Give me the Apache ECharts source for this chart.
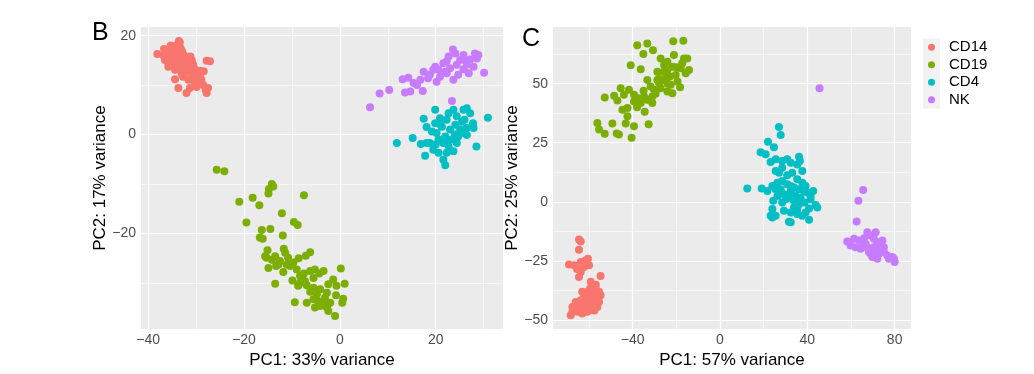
<!DOCTYPE html>
<html>
<head>
<meta charset="utf-8">
<script src="https://cdn.jsdelivr.net/npm/echarts@6/dist/echarts.min.js"></script>
<style>html,body{margin:0;padding:0;background:#fff}#c{width:1034px;height:374px}</style>
</head>
<body>
<div id="c"></div>
<script>
// ---------- categories ----------
const groups = ['CD14', 'CD19', 'CD4', 'NK'];
const colors = ['#F8766D', '#7CAE00', '#00BFC4', '#C77CFF'];

// ---------- panel B (PC1 33%, PC2 17%) ----------
const bCD14 = [[-38.1,16.3],[-36.7,17.3],[-35.3,18.0],[-33.6,18.9],[-33.4,18.6],[-36.0,16.1],[-34.8,17.1],[-33.4,16.4],[-32.0,15.4],[-30.9,15.0],[-35.8,13.7],[-34.4,13.1],[-33.0,13.4],[-31.3,12.7],[-30.3,13.2],[-29.2,12.9],[-27.8,14.9],[-27.1,14.8],[-34.4,11.2],[-33.7,9.4],[-32.0,8.4],[-31.3,9.4],[-29.9,9.6],[-28.9,11.1],[-28.5,10.0],[-27.8,8.4],[-27.5,9.4],[-34.1,15.1],[-32.7,14.4],[-35.1,15.4],[-36.5,15.1],[-35.8,14.4],[-33.4,14.1],[-32.3,13.7],[-30.6,14.1],[-30.3,11.7],[-31.6,11.1],[-29.6,10.4],[-29.2,12.1],[-32.7,11.7],[-34.5,16.5],[-33.8,15.8],[-34.2,14.6],[-33.0,15.0],[-32.5,16.0],[-31.8,14.2],[-35.5,16.8],[-33.2,17.4],[-34.8,13.9],[-32.2,12.6],[-30.8,12.3],[-31.5,13.5],[-29.8,11.5],[-30.4,10.8],[-28.4,12.8],[-28.0,9.0],[-33.0,12.3],[-36.8,16.0],[-33.9,18.2],[-35.0,14.9],[-32.9,16.8],[-31.2,15.8],[-33.6,13.2]];
const bCD19 = [[-25.7,-7.1],[-24.1,-7.4],[-14.2,-10.0],[-13.9,-10.5],[-14.8,-11.0],[-14.9,-11.9],[-21.0,-13.6],[-18.2,-12.8],[-16.8,-14.3],[-7.5,-12.3],[-12.1,-15.9],[-19.5,-17.8],[-9.6,-17.7],[-8.8,-18.3],[-16.3,-19.3],[-14.5,-19.1],[-16.7,-20.8],[-16.1,-21.1],[-11.9,-20.4],[-15.1,-23.4],[-15.3,-24.9],[-14.2,-25.3],[-13.5,-24.6],[-11.7,-23.1],[-11.4,-23.9],[-10.8,-24.9],[-9.7,-25.9],[-8.6,-25.0],[-7.1,-24.5],[-6.2,-23.8],[-14.9,-27.0],[-13.3,-26.6],[-11.8,-27.8],[-13.5,-30.2],[-10.4,-26.6],[-9.0,-27.3],[-8.3,-28.6],[-7.5,-28.1],[-6.2,-27.6],[-5.2,-27.3],[-4.3,-28.1],[-3.4,-27.6],[0.2,-27.1],[-9.9,-29.5],[-8.3,-30.0],[-6.9,-30.5],[-5.5,-31.0],[-4.1,-31.3],[-2.7,-32.0],[-2.4,-30.3],[-1.4,-29.3],[-0.7,-30.6],[-0.8,-32.5],[1.0,-30.2],[-9.4,-33.9],[-6.9,-34.0],[-5.5,-33.3],[-4.5,-33.7],[-3.4,-34.3],[-2.7,-35.0],[-2.4,-35.7],[-1.0,-36.7],[0.7,-33.2],[0.5,-34.0],[-8.0,-29.0],[-6.2,-31.8],[-4.8,-32.3],[-3.1,-33.0],[-2.0,-34.0],[-5.2,-35.0],[-4.1,-34.7],[-12.5,-25.6],[-12.8,-26.3],[-15.6,-24.6],[-11.1,-26.3],[-5.5,-29.0],[-7.3,-29.6],[-8.7,-30.6]];
const bCD4 = [[11.9,-1.7],[15.2,-0.7],[16.9,-1.9],[17.8,-4.3],[17.5,3.2],[18.1,1.5],[19.9,5.0],[20.9,3.3],[20.2,0.3],[18.8,-1.7],[19.5,-3.1],[20.6,-3.7],[21.6,-5.1],[22.0,-6.2],[22.3,-3.7],[23.7,-3.4],[21.3,1.6],[22.7,4.3],[23.7,5.0],[24.4,3.7],[25.5,2.6],[25.8,5.0],[26.5,5.3],[27.2,4.3],[27.8,2.3],[27.9,1.3],[28.5,-2.4],[30.9,3.4],[25.8,0.3],[24.7,-0.4],[23.4,-1.0],[22.0,-0.4],[23.0,1.0],[24.1,2.0],[25.1,1.0],[26.5,1.3],[22.3,3.0],[19.9,2.3],[19.2,0.6],[20.6,-1.0],[18.1,-1.7],[21.6,-1.7],[22.7,-2.4],[26.5,-0.1],[24.4,-1.7],[21.0,2.0],[24.0,0.0],[22.5,-1.5],[26.0,3.0],[20.0,-2.0]];
const bNK = [[6.3,5.5],[8.3,8.3],[10.3,9.0],[13.1,11.2],[14.3,11.5],[13.6,8.5],[14.7,8.7],[17.3,8.8],[15.4,10.4],[16.8,11.1],[17.5,12.7],[18.8,12.1],[19.9,13.7],[20.6,13.1],[21.6,14.4],[22.3,14.8],[22.7,15.8],[23.6,17.2],[24.1,16.4],[25.1,15.1],[25.8,16.1],[26.5,14.1],[26.2,15.0],[20.9,11.7],[23.7,11.1],[26.9,12.4],[27.9,13.7],[28.9,16.1],[28.6,15.4],[30.1,12.5],[27.2,15.2],[24.4,14.1],[23.0,13.4],[22.0,12.7],[19.5,13.1],[18.4,11.4],[23.4,6.8],[16.1,10.0],[28.2,16.4],[25.8,13.2],[24.7,12.1],[22.3,12.4],[20.2,10.7]];

// ---------- panel C (PC1 57%, PC2 25%) ----------
const cCD14 = [[-64.6,-16.0],[-63.8,-16.8],[-64.6,-20.3],[-69.2,-26.5],[-66.9,-26.9],[-63.8,-25.5],[-61.5,-24.8],[-60.5,-24.1],[-62.3,-27.6],[-63.8,-29.7],[-64.6,-31.8],[-60.0,-26.9],[-54.7,-31.4],[-59.2,-33.9],[-59.5,-36.7],[-56.9,-36.7],[-55.4,-38.1],[-54.7,-39.6],[-55.4,-42.4],[-56.2,-44.5],[-57.7,-43.1],[-59.2,-45.9],[-60.8,-46.6],[-63.1,-47.3],[-65.3,-46.6],[-68.4,-48.0],[-67.6,-44.5],[-66.1,-42.4],[-63.8,-41.7],[-62.3,-40.3],[-60.8,-38.1],[-58.5,-40.3],[-60.0,-43.1],[-61.5,-44.5],[-63.8,-44.5],[-66.1,-45.2],[-56.2,-41.0],[-57.7,-38.8],[-60.8,-41.0],[-62.3,-43.1],[-64.6,-43.8],[-56.9,-35.1],[-59.2,-38.8],[-63.1,-38.1],[-67.6,-46.6],[-59.2,-41.7],[-65.5,-28.5],[-62.0,-25.8],[-57.5,-46.0],[-61.0,-42.5]];
const cCD19 = [[-37.9,66.3],[-33.3,67.0],[-21.4,68.0],[-16.8,68.2],[-35.1,62.6],[-30.7,64.2],[-40.9,57.8],[-36.3,56.1],[-33.3,51.6],[-28.7,55.1],[-25.6,57.9],[-24.1,59.3],[-21.1,62.1],[-21.8,57.2],[-27.2,60.7],[-16.5,60.7],[-15.0,60.7],[-14.2,55.8],[-15.7,54.4],[-24.1,53.0],[-27.9,50.2],[-31.8,48.8],[-27.2,48.1],[-22.6,49.5],[-19.5,50.9],[-21.8,46.0],[-18.3,48.5],[-31.0,44.6],[-29.5,45.7],[-33.3,43.2],[-37.9,43.9],[-39.4,45.3],[-41.7,47.4],[-44.0,45.3],[-45.5,48.1],[-44.7,39.0],[-42.4,36.2],[-43.2,33.1],[-39.4,32.0],[-36.3,41.8],[-34.5,38.1],[-32.7,32.8],[-40.5,27.1],[-46.3,28.5],[-47.3,28.9],[-49.3,33.1],[-52.8,28.8],[-56.2,33.4],[-55.4,30.6],[-52.8,44.2],[-48.5,44.9],[-47.0,42.9],[-42.4,39.7],[-39.4,42.5],[-31.0,41.8],[-34.8,44.6],[-28.7,51.6],[-25.6,51.6],[-24.1,55.8],[-20.3,53.7],[-18.0,56.5],[-17.3,58.6],[-30.2,47.4],[-24.1,46.7],[-26.0,55.0],[-23.0,53.0],[-28.0,52.0],[-20.0,57.0],[-24.0,50.0],[-35.0,47.0],[-38.0,40.0]];
const cCD4 = [[27.0,31.7],[27.8,28.3],[22.0,25.4],[24.7,23.1],[18.6,21.0],[20.9,20.1],[23.2,16.8],[25.5,18.0],[28.5,17.3],[30.8,18.0],[32.4,16.5],[36.2,19.1],[36.6,17.3],[35.4,15.8],[37.7,13.0],[12.5,5.6],[19.1,5.6],[21.7,4.6],[24.0,6.7],[26.3,8.1],[28.5,8.8],[30.8,7.4],[32.4,6.7],[33.9,6.0],[36.2,5.3],[38.5,4.6],[40.0,3.9],[42.7,4.6],[43.8,-1.4],[44.6,-2.4],[41.5,1.1],[38.8,-0.3],[36.2,-1.0],[33.9,0.4],[31.6,1.8],[29.3,3.2],[26.3,2.5],[24.4,0.4],[24.0,-3.1],[25.5,-5.9],[24.0,-6.6],[23.2,-5.9],[29.3,-3.8],[31.6,-8.4],[32.4,-8.7],[35.4,-5.2],[37.7,-5.9],[40.8,-7.6],[39.2,-4.5],[33.9,-2.4],[28.5,-0.3],[30.8,11.2],[27.0,12.3],[25.5,13.0],[28.5,14.4],[33.1,12.3],[35.4,9.5],[37.7,8.1],[39.2,6.7],[41.5,2.5],[27.8,5.3],[32.4,4.6],[36.9,1.8],[34.7,2.5],[30.1,1.1],[25.5,5.3],[40.8,-2.8],[35.4,-3.1],[32.4,-4.5]];
const cNK = [[45.6,48.1],[65.6,5.0],[63.4,0.4],[62.6,-8.3],[58.3,-16.8],[59.8,-18.5],[62.1,-19.2],[64.4,-19.9],[66.7,-17.8],[67.5,-12.9],[69.0,-14.3],[70.5,-15.7],[71.3,-12.9],[72.1,-17.1],[73.6,-18.5],[75.1,-21.3],[76.6,-22.7],[78.9,-23.4],[80.0,-25.5],[79.7,-24.1],[72.8,-22.0],[69.8,-23.4],[68.2,-21.3],[70.5,-19.2],[74.4,-16.4],[75.1,-19.2],[61.4,-15.7],[63.7,-16.4],[66.0,-15.4],[67.5,-19.2],[72.1,-24.1],[77.4,-24.1],[73.6,-20.6],[69.0,-22.0],[71.3,-21.3],[65.2,-19.2]];

// ---------- ticks / ranges ----------
const bXTicks = [-40, -20, 0, 20];
const bYTicks = [-20, 0, 20];
const bXMinor = [-30, -10, 10, 30];
const bYMinor = [-30, -10, 10];
const cXTicks = [-40, 0, 40, 80];
const cYTicks = [-50, -25, 0, 25, 50];
const cXMinor = [-60, -20, 20, 60];
const cYMinor = [-37.5, -12.5, 12.5, 37.5, 62.5];
const bXRange = [-41.5, 34.05];
const bYRange = [-39.35, 21.75];
const cXRange = [-76.5, 87.5];
const cYRange = [-53.9, 74];

const FONT = '"Liberation Sans", Arial, Helvetica, sans-serif';
const fmt = v => (v < 0 ? '\u2212' + Math.abs(v) : String(v));

function axis(range, ticks, name, gap, isY, gridIndex) {
  return {
    type: 'value', gridIndex, min: range[0], max: range[1],
    name, nameLocation: 'middle', nameGap: gap,
    nameTextStyle: { fontFamily: FONT, fontSize: 17, color: '#000' },
    axisLine: { show: false },
    axisTick: { show: true, length: 3.5, customValues: ticks, lineStyle: { color: '#333333', width: 1 } },
    axisLabel: { customValues: ticks, formatter: fmt, margin: isY ? 5 : 4, fontFamily: FONT, fontSize: 14, color: '#4D4D4D' },
    splitLine: { show: false }
  };
}

function gridLines(xMaj, yMaj, xMin, yMin, xi) {
  const minorStyle = { color: '#ffffff', width: 0.55, type: 'solid', opacity: 1 };
  const majorStyle = { color: '#ffffff', width: 1.2, type: 'solid', opacity: 1 };
  const data = [];
  xMin.forEach(v => data.push({ xAxis: v, lineStyle: minorStyle }));
  yMin.forEach(v => data.push({ yAxis: v, lineStyle: minorStyle }));
  xMaj.forEach(v => data.push({ xAxis: v, lineStyle: majorStyle }));
  yMaj.forEach(v => data.push({ yAxis: v, lineStyle: majorStyle }));
  return {
    type: 'scatter', name: 'grid' + xi, xAxisIndex: xi, yAxisIndex: xi, data: [], silent: true,
    markLine: { z: 1, silent: true, symbol: ['none', 'none'], label: { show: false }, animation: false, data }
  };
}

const panels = [[bCD14, bCD19, bCD4, bNK], [cCD14, cCD19, cCD4, cNK]];
const series = [gridLines(bXTicks, bYTicks, bXMinor, bYMinor, 0), gridLines(cXTicks, cYTicks, cXMinor, cYMinor, 1)];
panels.forEach((sets, pi) => {
  sets.forEach((d, gi) => {
    series.push({
      type: 'scatter', name: groups[gi], xAxisIndex: pi, yAxisIndex: pi, data: d,
      symbol: 'circle', symbolSize: 8, z: 3,
      itemStyle: { color: colors[gi], opacity: 1 }, emphasis: { disabled: true }
    });
  });
});

const chart = echarts.init(document.getElementById('c'), null, { renderer: 'canvas' });
chart.setOption({
  animation: false,
  backgroundColor: '#ffffff',
  title: [
    { text: 'B', left: 92, top: 21, padding: 0, textStyle: { fontFamily: FONT, fontSize: 25, fontWeight: 'normal', color: '#000' } },
    { text: 'C', left: 522, top: 27, padding: 0, textStyle: { fontFamily: FONT, fontSize: 25, fontWeight: 'normal', color: '#000' } }
  ],
  grid: [
    { left: 141, top: 27, width: 362, height: 303, show: true, backgroundColor: '#EBEBEB', borderWidth: 0 },
    { left: 553, top: 27, width: 358, height: 304, show: true, backgroundColor: '#EBEBEB', borderWidth: 0 }
  ],
  xAxis: [
    axis(bXRange, bXTicks, 'PC1: 33% variance', 18, false, 0),
    axis(cXRange, cXTicks, 'PC1: 57% variance', 18, false, 1)
  ],
  yAxis: [
    axis(bYRange, bYTicks, 'PC2: 17% variance', 28, true, 0),
    axis(cYRange, cYTicks, 'PC2: 25% variance', 30, true, 1)
  ],
  legend: {
    data: groups, orient: 'vertical', left: 928, top: 38.8, padding: 0, itemGap: 0.5,
    icon: 'circle', itemWidth: 7, itemHeight: 7, selectedMode: false,
    textStyle: { fontFamily: FONT, fontSize: 15, color: '#000', lineHeight: 17, padding: [0, 0, 0, 9] }
  },
  graphic: [
    { type: 'rect', left: 923, top: 38.5, shape: { width: 17, height: 70 }, style: { fill: '#F2F2F2' }, z: 0, silent: true }
  ],
  series
});
</script>
</body>
</html>
